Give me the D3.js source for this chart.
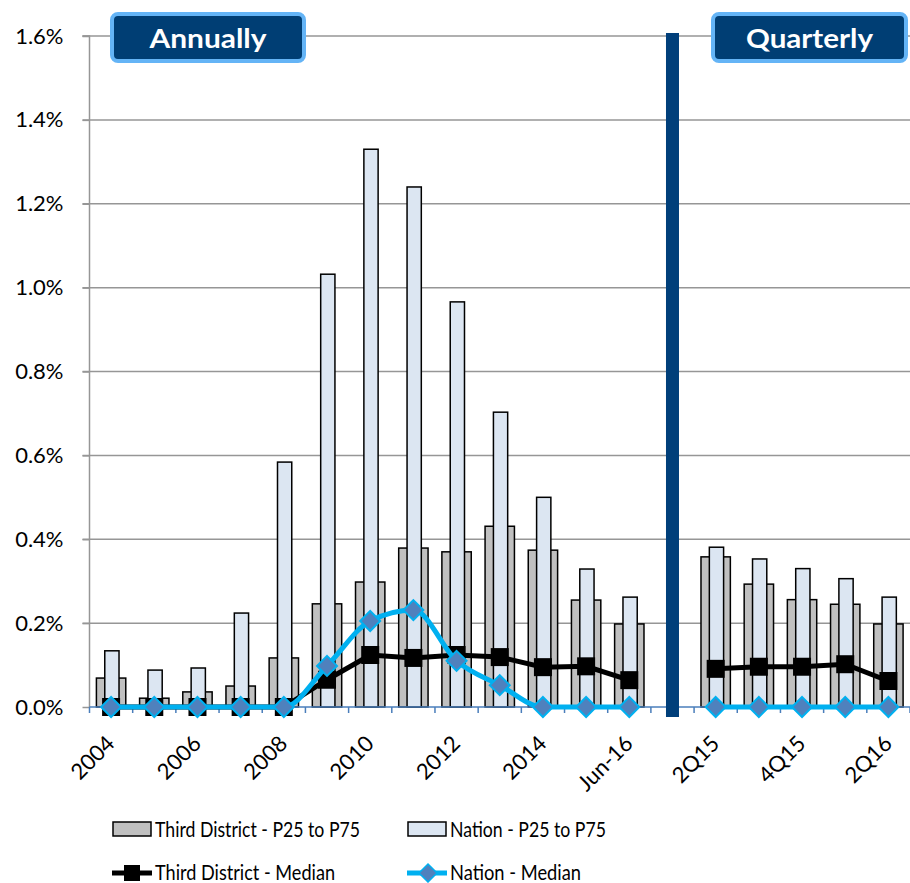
<!DOCTYPE html>
<html>
<head>
<meta charset="utf-8">
<script src="https://cdn.jsdelivr.net/npm/d3@7/dist/d3.min.js"></script>
<style>
  html, body { margin: 0; padding: 0; background: #fff; }
  svg { display: block; font-family: Lato, "Open Sans", sans-serif; }
</style>
</head>
<body>
<svg id="chart" width="910" height="883"></svg>
<script>
// ---- Data (percent values) ----
const categories = ["2004","2005","2006","2007","2008","2009","2010","2011","2012","2013","2014","2015","Jun-16",
                    "", "2Q15","3Q15","4Q15","1Q16","2Q16"];
const labelled = ["2004","2006","2008","2010","2012","2014","Jun-16","2Q15","4Q15","2Q16"];
const thirdP75 = [0.069,0.021,0.036,0.050,0.117,0.246,0.298,0.379,0.370,0.431,0.374,0.255,0.198,
                  null, 0.358,0.293,0.256,0.245,0.198];
const nationP75 = [0.134,0.088,0.093,0.224,0.584,1.032,1.330,1.240,0.966,0.703,0.500,0.329,0.262,
                   null, 0.381,0.353,0.330,0.306,0.262];
const thirdMedian = [0,0,0,0,0,0.065,0.124,0.117,0.124,0.119,0.095,0.097,0.064,
                     null, 0.091,0.096,0.096,0.102,0.062];
const nationMedian = [0,0,0,0,0,0.098,0.205,0.231,0.110,0.052,0,0,0,
                      null, 0,0,0,0,0];
const yTicks = [0,0.2,0.4,0.6,0.8,1.0,1.2,1.4,1.6];
const legendItems = ["Third District - P25 to P75","Nation - P25 to P75","Third District - Median","Nation - Median"];
const sectionLabels = ["Annually","Quarterly"];

// ---- Layout ----
const svg = d3.select("#chart");
const pL = 89.5, pR = 910, pT = 36, pB = 707;
const x = d3.scaleBand().domain(d3.range(categories.length)).range([pL, pR]).padding(0);
const y = d3.scaleLinear().domain([0, 1.6]).range([pB, pT]);
const bw = x.bandwidth();
const cx = i => x(i) + bw / 2;

// gridlines
svg.append("g").selectAll("line").data(yTicks.filter(t => t > 0)).join("line")
  .attr("x1", pL - 7).attr("x2", pR).attr("y1", d => y(d)).attr("y2", d => y(d))
  .attr("stroke", "#969696").attr("stroke-width", 1.5);

// y axis
const yAxis = d3.axisLeft(y).tickValues(yTicks).tickSize(7).tickPadding(19)
  .tickFormat(d => d.toFixed(1) + "%");
const gy = svg.append("g").attr("transform", `translate(${pL},0)`).call(yAxis);
gy.select(".domain").attr("stroke", "#969696").attr("stroke-width", 1.5).attr("d", `M-7,${pT}H0V${pB}`);
gy.selectAll(".tick line").attr("stroke", "#969696").attr("stroke-width", 1.5);
gy.selectAll(".tick text").attr("font-size", 22).attr("fill", "#000").attr("font-family", "Lato");

// bars
const idx = d3.range(categories.length);
svg.append("g").selectAll("rect").data(idx.filter(i => thirdP75[i] != null)).join("rect")
  .attr("x", i => cx(i) - bw * 0.34).attr("width", bw * 0.68)
  .attr("y", i => y(thirdP75[i])).attr("height", i => y(0) - y(thirdP75[i]))
  .attr("fill", "#c0c0c0").attr("stroke", "#000").attr("stroke-width", 1.5);
svg.append("g").selectAll("rect").data(idx.filter(i => nationP75[i] != null)).join("rect")
  .attr("x", i => cx(i) - bw * 0.165 + 0.8).attr("width", bw * 0.33)
  .attr("y", i => y(nationP75[i])).attr("height", i => y(0) - y(nationP75[i]))
  .attr("fill", "#dce6f2").attr("stroke", "#000").attr("stroke-width", 1.5);

// x axis
const xAxis = d3.axisBottom(x).tickSize(0).tickFormat("");
const gx = svg.append("g").attr("transform", `translate(0,${pB})`).call(xAxis);
gx.select(".domain").attr("stroke", "#4a7ebb").attr("stroke-width", 1.5).attr("d", `M${pL},0H${pR}`);
gx.append("g").selectAll("line").data(d3.range(categories.length + 1)).join("line")
  .attr("x1", i => pL + i * bw).attr("x2", i => pL + i * bw)
  .attr("y1", 0).attr("y2", 6).attr("stroke", "#4a7ebb").attr("stroke-width", 1.5);
svg.append("g").selectAll("text").data(idx.filter(i => labelled.includes(categories[i]))).join("text")
  .attr("transform", i => `translate(${cx(i) + 5},${pB + 38}) rotate(-45)`)
  .attr("text-anchor", "end").attr("font-size", 22).attr("fill", "#000")
  .text(i => categories[i]);

// separator
const sepI = categories.indexOf("");
svg.append("rect").attr("x", cx(sepI) - 6.5).attr("width", 13)
  .attr("y", 33).attr("height", 717 - 33).attr("fill", "#003f7a");

// median lines
const segs = () => [idx.filter(i => i < sepI), idx.filter(i => i > sepI)];
const blackLine = d3.line().x(i => cx(i)).y(i => y(thirdMedian[i]));
const cyanLine = d3.line().x(i => cx(i)).y(i => y(nationMedian[i])).curve(d3.curveMonotoneX);
segs().forEach(s => {
  svg.append("path").attr("d", blackLine(s)).attr("fill", "none").attr("stroke", "#000").attr("stroke-width", 5);
});
svg.append("g").selectAll("rect").data(idx.filter(i => thirdMedian[i] != null)).join("rect")
  .attr("x", i => cx(i) - 9).attr("y", i => y(thirdMedian[i]) - 9)
  .attr("width", 18).attr("height", 18).attr("fill", "#000");
segs().forEach(s => {
  svg.append("path").attr("d", cyanLine(s)).attr("fill", "none").attr("stroke", "#00b0f0").attr("stroke-width", 5);
});
svg.append("g").selectAll("path").data(idx.filter(i => nationMedian[i] != null)).join("path")
  .attr("d", i => { const px = cx(i), py = y(nationMedian[i]); return `M${px},${py-10}L${px+10},${py}L${px},${py+10}L${px-10},${py}Z`; })
  .attr("fill", "#4f81bd").attr("stroke", "#00b0f0").attr("stroke-width", 2);

// section label boxes
const boxes = [{x: 110, w: 196, t: sectionLabels[0], tl: 117}, {x: 711, w: 197, t: sectionLabels[1], tl: 127}];
boxes.forEach(b => {
  svg.append("rect").attr("x", b.x + 2).attr("y", 14).attr("width", b.w - 4).attr("height", 47)
    .attr("rx", 6).attr("fill", "#003e74").attr("stroke", "#64b4f6").attr("stroke-width", 4);
  svg.append("text").attr("x", b.x + b.w / 2).attr("y", 48).attr("text-anchor", "middle")
    .attr("font-size", 26).attr("font-weight", "bold").attr("fill", "#fff")
    .attr("textLength", b.tl).attr("lengthAdjust", "spacingAndGlyphs").text(b.t);
});

// legend
const lg = svg.append("g").attr("font-size", 20.5).attr("fill", "#000");
const lpos = [[112, 830], [407, 830], [112, 873], [407, 873]];
const lwidths = [205, 156, 180, 131];
lg.append("rect").attr("x", 113).attr("y", 822).attr("width", 38).attr("height", 14)
  .attr("fill", "#c0c0c0").attr("stroke", "#000").attr("stroke-width", 1.5);
lg.append("rect").attr("x", 408).attr("y", 822).attr("width", 38).attr("height", 14)
  .attr("fill", "#dce6f2").attr("stroke", "#000").attr("stroke-width", 1.5);
lg.append("line").attr("x1", 112).attr("x2", 152).attr("y1", 873).attr("y2", 873).attr("stroke", "#000").attr("stroke-width", 5);
lg.append("rect").attr("x", 124).attr("y", 865).attr("width", 16).attr("height", 16).attr("fill", "#000");
lg.append("line").attr("x1", 407).attr("x2", 447).attr("y1", 873).attr("y2", 873).attr("stroke", "#00b0f0").attr("stroke-width", 5);
lg.append("path").attr("d", "M428,864L437,873L428,882L419,873Z").attr("fill", "#4f81bd").attr("stroke", "#00b0f0").attr("stroke-width", 1.5);
legendItems.forEach((t, k) => {
  lg.append("text").attr("x", lpos[k][0] + 43).attr("y", lpos[k][1] + 7)
    .attr("textLength", lwidths[k]).attr("lengthAdjust", "spacingAndGlyphs").text(t);
});
</script>
</body>
</html>
